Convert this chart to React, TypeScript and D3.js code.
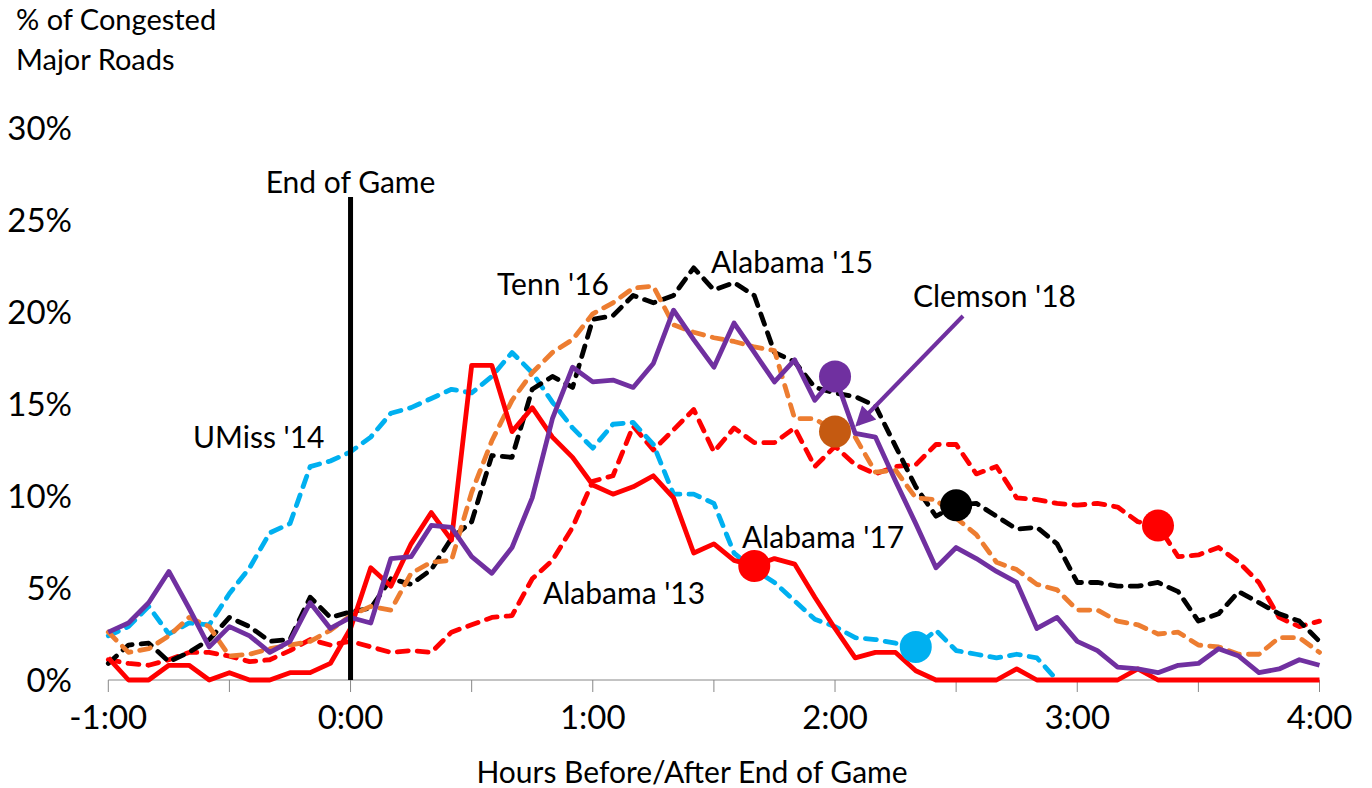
import React from 'react';
import * as d3 from 'd3';

// minutes relative to end of game (5-minute steps)
const minutes = [
  -60, -55, -50, -45, -40, -35, -30, -25, -20, -15, -10, -5,
  0, 5, 10, 15, 20, 25, 30, 35, 40, 45, 50, 55,
  60, 65, 70, 75, 80, 85, 90, 95, 100, 105, 110, 115,
  120, 125, 130, 135, 140, 145, 150, 155, 160, 165, 170, 175,
  180, 185, 190, 195, 200, 205, 210, 215, 220, 225, 230, 235, 240,
];

const alabama13 = [
  1.1, 0.9, 0.8, 1.1, 1.5, 1.5, 1.3, 1.0, 1.1, 1.6, 2.2, 1.9,
  2.1, 1.8, 1.5, 1.6, 1.5, 2.6, 3.0, 3.4, 3.5, 5.5, 6.5, 8.3,
  10.8, 11.1, 13.8, 12.5, 13.6, 14.7, 12.4, 13.7, 12.9, 12.9, 13.7, 11.6,
  12.7, 11.7, 11.2, 11.6, 11.7, 12.8, 12.8, 11.2, 11.6, 9.9, 9.8, 9.6,
  9.5, 9.6, 9.4, 8.6, 8.4, 6.7, 6.8, 7.2, 6.4, 5.3, 3.4, 2.9, 3.2,
];

const umiss14: (number | null)[] = [
  2.4, 2.9, 4.0, 2.5, 3.1, 3.0, 4.7, 6.1, 8.0, 8.5, 11.6, 11.9,
  12.4, 13.2, 14.5, 14.8, 15.3, 15.8, 15.6, 16.5, 17.8, 16.7, 15.1, 13.7,
  12.6, 13.9, 14.0, 12.8, 10.1, 10.1, 9.6, 6.9, 6.0, 5.3, 4.3, 3.3,
  2.9, 2.3, 2.2, 2.0, 1.8, 2.7, 1.6, 1.4, 1.2, 1.4, 1.2, 0.0,
  null, null, null, null, null, null, null, null, null, null, null, null, null,
];

const alabama15 = [
  0.9, 1.9, 2.0, 1.0, 1.5, 2.2, 3.4, 2.9, 2.1, 2.2, 4.5, 3.4,
  3.7, 3.9, 5.5, 5.2, 6.0, 7.7, 8.6, 12.2, 12.1, 15.8, 16.5, 15.9,
  19.6, 19.8, 20.9, 20.5, 20.9, 22.4, 21.2, 21.6, 20.9, 17.8, 17.3, 15.9,
  15.6, 15.4, 14.9, 12.7, 10.5, 8.9, 9.5, 9.6, 8.9, 8.2, 8.3, 7.4,
  5.3, 5.3, 5.1, 5.1, 5.3, 4.8, 3.2, 3.6, 4.8, 4.2, 3.6, 3.2, 2.1,
];

const tenn16 = [
  2.6, 1.5, 1.7, 2.4, 3.4, 2.9, 1.3, 1.4, 1.7, 1.9, 2.1, 2.7,
  3.5, 4.0, 3.8, 5.8, 6.4, 6.5, 10.2, 13.0, 15.2, 16.7, 17.8, 18.5,
  19.9, 20.5, 21.3, 21.4, 19.3, 18.9, 18.6, 18.4, 18.1, 17.9, 14.2, 14.2,
  13.5, 13.2, 11.3, 11.4, 9.9, 9.8, 8.8, 7.9, 6.4, 6.0, 5.2, 4.9,
  3.8, 3.8, 3.2, 3.0, 2.5, 2.6, 1.9, 1.8, 1.4, 1.4, 2.3, 2.3, 1.5,
];

const alabama17 = [
  1.2, 0, 0, 0.8, 0.8, 0, 0.4, 0, 0, 0.4, 0.4, 0.9,
  2.8, 6.1, 5.1, 7.4, 9.1, 7.6, 17.1, 17.1, 13.5, 14.8, 13.2, 12.1,
  10.6, 10.1, 10.5, 11.1, 9.9, 6.9, 7.4, 6.5, 6.2, 6.6, 6.3, 4.5,
  2.8, 1.2, 1.5, 1.5, 0.5, 0, 0, 0, 0, 0.6, 0, 0,
  0, 0, 0, 0.6, 0, 0, 0, 0, 0, 0, 0, 0, 0,
];

const clemson18 = [
  2.6, 3.1, 4.2, 5.9, 3.9, 1.8, 2.9, 2.4, 1.5, 2.1, 4.2, 2.8,
  3.4, 3.1, 6.6, 6.7, 8.4, 8.3, 6.7, 5.8, 7.2, 9.9, 14.2, 17.0,
  16.2, 16.3, 15.9, 17.2, 20.1, 18.5, 17.0, 19.4, 17.8, 16.2, 17.4, 15.2,
  16.5, 13.4, 13.2, 10.8, 8.5, 6.1, 7.2, 6.6, 5.9, 5.3, 2.8, 3.4,
  2.1, 1.6, 0.7, 0.6, 0.4, 0.8, 0.9, 1.7, 1.3, 0.4, 0.6, 1.1, 0.8,
];

const seriesNames = ["Alabama '13", "UMiss '14", "Alabama '15", "Tenn '16", "Alabama '17", "Clemson '18"];
const seriesValues = [alabama13, umiss14, alabama15, tenn16, alabama17, clemson18];
const seriesColors = ['#FF0000', '#00B0F0', '#000000', '#ED7D31', '#FF0000', '#7030A0'];
const seriesDashed = [true, true, true, true, false, false];
// marker minute for each series (highlight dot)
const markerMinutes = [200, 140, 150, 120, 100, 120];
const markerColors = ['#FF0000', '#00B0F0', '#000000', '#C55A11', '#FF0000', '#7030A0'];

const xTickValues = [-60, 0, 60, 120, 180, 240];
const xTickLabels = ['-1:00', '0:00', '1:00', '2:00', '3:00', '4:00'];
const xMinorTicks = [-60, -30, 0, 30, 60, 90, 120, 150, 180, 210, 240];
const yTickValues = [0, 5, 10, 15, 20, 25, 30];
const yTickLabels = ['0%', '5%', '10%', '15%', '20%', '25%', '30%'];

const FONT = "Lato, 'Open Sans', sans-serif";

export default function App() {
  const x = d3.scaleLinear().domain([-60, 240]).range([108.3, 1319.5]);
  const y = d3.scaleLinear().domain([0, 30]).range([680, 128]);

  const lineGen = d3
    .line<[number, number | null]>()
    .defined((d) => d[1] !== null && d[1] !== undefined)
    .x((d) => x(d[0]))
    .y((d) => y(d[1] as number));

  const titleStyle = { fontFamily: FONT, fontSize: 29, fill: '#000' } as const;
  const labelStyle = { fontFamily: FONT, fontSize: 30, fill: '#000' } as const;

  const arrowStart = [963, 316];
  const arrowEnd = [858, 424];

  return (
    <svg
      width={1372}
      height={788}
      style={{ position: 'absolute', left: 0, top: 0, background: '#fff' }}
    >
      <defs>
        <marker id="arrowHead" viewBox="0 0 10 10" refX="8" refY="5" markerWidth="5.5" markerHeight="5" orient="auto">
          <path d="M0,0 L10,5 L0,10 z" fill="#7030A0" />
        </marker>
      </defs>
      {/* y axis title */}
      <text x={16} y={30} style={titleStyle}>% of Congested</text>
      <text x={16} y={70} style={titleStyle}>Major Roads</text>

      {/* y tick labels */}
      {yTickValues.map((v, i) => (
        <text
          key={'yt' + v}
          x={72}
          y={y(v)}
          dy="0.36em"
          textAnchor="end"
          style={{ fontFamily: FONT, fontSize: 33, fill: '#000' }}
        >
          {yTickLabels[i]}
        </text>
      ))}

      {/* x axis */}
      <line x1={x(-60)} x2={x(240)} y1={680} y2={680} stroke="#888" strokeWidth={1} />
      {xMinorTicks.map((m) => (
        <line key={'xt' + m} x1={x(m)} x2={x(m)} y1={680} y2={692} stroke="#888" strokeWidth={1} />
      ))}
      {xTickValues.map((m, i) => (
        <text
          key={'xl' + m}
          x={x(m)}
          y={717}
          dy="0.36em"
          textAnchor="middle"
          style={{ fontFamily: FONT, fontSize: 33, fill: '#000' }}
        >
          {xTickLabels[i]}
        </text>
      ))}
      <text x={692} y={783} textAnchor="middle" style={labelStyle}>
        Hours Before/After End of Game
      </text>

      {/* series lines */}
      {seriesValues.map((vals, si) => {
        const pts = minutes.map((m, i) => [m, vals[i]] as [number, number | null]);
        return (
          <path
            key={'s' + si}
            d={lineGen(pts) || ''}
            fill="none"
            stroke={seriesColors[si]}
            strokeWidth={4.8}
            strokeLinejoin="round"
            strokeLinecap={seriesDashed[si] ? 'round' : 'butt'}
            strokeDasharray={seriesDashed[si] ? '11 9' : undefined}
          />
        );
      })}

      {/* end of game line */}
      <line x1={x(0)} x2={x(0)} y1={197} y2={680} stroke="#000" strokeWidth={5} />
      <text x={x(0)} y={193} textAnchor="middle" style={labelStyle}>End of Game</text>

      {/* markers */}
      {seriesValues.map((vals, si) => {
        const idx = minutes.indexOf(markerMinutes[si]);
        const v = vals[idx] as number;
        return <circle key={'m' + si} cx={x(markerMinutes[si])} cy={y(v)} r={16} fill={markerColors[si]} />;
      })}

      {/* series labels */}
      <text x={193} y={448} style={labelStyle}>{seriesNames[1]}</text>
      <text x={497} y={295} style={labelStyle}>{seriesNames[3]}</text>
      <text x={711} y={273} style={labelStyle}>{seriesNames[2]}</text>
      <text x={913} y={307} style={labelStyle}>{seriesNames[5]}</text>
      <text x={742} y={548} style={labelStyle}>{seriesNames[4]}</text>
      <text x={543} y={604} style={labelStyle}>{seriesNames[0]}</text>

      {/* arrow to Clemson line */}
      <line
        x1={arrowStart[0]}
        y1={arrowStart[1]}
        x2={arrowEnd[0]}
        y2={arrowEnd[1]}
        stroke="#7030A0"
        strokeWidth={4}
        markerEnd="url(#arrowHead)"
      />
    </svg>
  );
}
